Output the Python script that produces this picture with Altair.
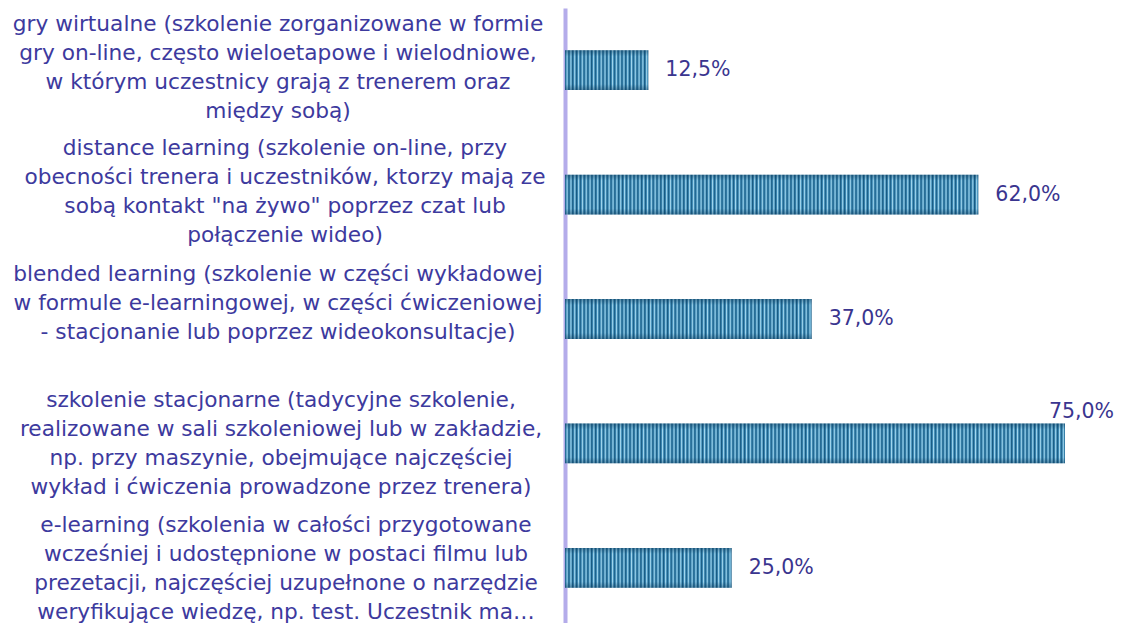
import altair as alt
import pandas as pd

categories = ["gry wirtualne", "distance learning", "blended learning",
              "szkolenie stacjonarne", "e-learning"]
values = [12.5, 62.0, 37.0, 75.0, 25.0]
label_lines = [
    ["gry wirtualne (szkolenie zorganizowane w formie",
     "gry on-line, często wieloetapowe i wielodniowe,",
     "w którym uczestnicy grają z trenerem oraz",
     "między sobą)"],
    ["distance learning (szkolenie on-line, przy",
     "obecności trenera i uczestników, ktorzy mają ze",
     "sobą kontakt \"na żywo\" poprzez czat lub",
     "połączenie wideo)"],
    ["blended learning (szkolenie w części wykładowej",
     "w formule e-learningowej, w części ćwiczeniowej",
     "- stacjonanie lub poprzez wideokonsultacje)"],
    ["szkolenie stacjonarne (tadycyjne szkolenie,",
     "realizowane w sali szkoleniowej lub w zakładzie,",
     "np. przy maszynie, obejmujące najczęściej",
     "wykład i ćwiczenia prowadzone przez trenera)"],
    ["e-learning (szkolenia w całości przygotowane",
     "wcześniej i udostępnione w postaci filmu lub",
     "prezetacji, najczęściej uzupełnone o narzędzie",
     "weryfikujące wiedzę, np. test. Uczestnik ma…"],
]

# label block placement (style): first-line offset from band centre, centre x
label_dy = [-46, -47, -45, -43, -43]
label_cx = [278, 285, 278, 281, 286]

df = pd.DataFrame({
    "cat": categories,
    "value": values,
    "label": ["\n".join(l) for l in label_lines],
})

FONT = "DejaVu Sans"
LABEL_COLOR = "#3d3a9e"
VALUE_COLOR = "#3a358f"
LEFT = 557

y_enc = alt.Y("cat:N", sort=categories,
              scale=alt.Scale(paddingInner=0.68, paddingOuter=0.34),
              axis=alt.Axis(labels=False, ticks=False, title=None,
                            domainColor="#b4acea", domainWidth=4))
x_enc = alt.X("value:Q", scale=alt.Scale(domain=[0, 82.35], nice=False),
              axis=None)

base = alt.Chart(df).encode(y=y_enc)


def stripe_gradient(n):
    stops = []
    for k in range(n):
        stops.append(alt.GradientStop(color="#175a82", offset=k / n))
        stops.append(alt.GradientStop(color="#3d88b3", offset=(k + 0.3) / n))
        stops.append(alt.GradientStop(color="#a2d7ee", offset=(k + 0.55) / n))
        stops.append(alt.GradientStop(color="#4a94bd", offset=(k + 0.8) / n))
    stops.append(alt.GradientStop(color="#175a82", offset=1.0))
    return alt.Gradient(gradient="linear", stops=stops, x1=0, x2=1, y1=0, y2=0)


layers = []
for c, v in zip(categories, values):
    n = max(1, round(v * 1.75))
    layers.append(
        base.mark_bar(fill=stripe_gradient(n))
        .encode(x=x_enc)
        .transform_filter(alt.datum.cat == c)
    )

shade = base.mark_bar(fill=alt.Gradient(
    gradient="linear", x1=0, x2=0, y1=0, y2=1,
    stops=[alt.GradientStop(color="rgba(10,50,80,0.4)", offset=0),
           alt.GradientStop(color="rgba(10,50,80,0)", offset=0.15),
           alt.GradientStop(color="rgba(10,50,80,0)", offset=0.85),
           alt.GradientStop(color="rgba(10,50,80,0.4)", offset=1)])).encode(x=x_enc)
layers.append(shade)

for c, dy, cx in zip(categories, label_dy, label_cx):
    layers.append(
        base.mark_text(align="center", baseline="middle", lineBreak="\n",
                       lineHeight=29, fontSize=21.7, font=FONT,
                       color=LABEL_COLOR, dy=dy)
        .encode(x=alt.value(cx - 8 - LEFT), text="label:N")
        .transform_filter(alt.datum.cat == c)
    )

fmt = "replace(format(datum.value, '.1f'), '.', ',') + '%'"
val_props = dict(fontSize=20.5, font=FONT, color=VALUE_COLOR, baseline="middle")
vals_main = base.mark_text(align="left", dx=17, **val_props).encode(
    x=x_enc, text="vl:N"
).transform_calculate(vl=fmt).transform_filter(alt.datum.value < 70)
vals_top = base.mark_text(align="right", dy=-31, **val_props).encode(
    x=alt.value(549), text="vl:N"
).transform_calculate(vl=fmt).transform_filter(alt.datum.value >= 70)
layers += [vals_main, vals_top]

chart = alt.layer(*layers).properties(
    width=549, height=622,
    autosize=alt.AutoSizeParams(type="none"),
    padding={"left": LEFT, "top": 0, "right": 0, "bottom": 0},
    background="white",
).configure_view(stroke=None)

chart.save("out.html", embed_options={"renderer": "svg", "actions": False})
